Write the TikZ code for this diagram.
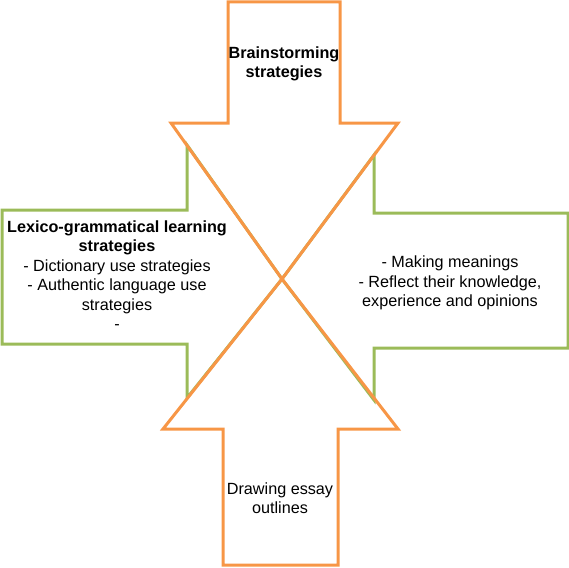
\documentclass[tikz,border=0pt]{standalone}
\usepackage{fontspec}
\setmainfont{Liberation Sans}
\definecolor{arroworange}{RGB}{247,150,70}
\definecolor{arrowgreen}{RGB}{155,187,89}

\begin{document}
\begin{tikzpicture}[x=1pt,y=-1pt,
    greenarrow/.style={draw=arrowgreen,line width=3pt,line join=miter},
    orangearrow/.style={draw=arroworange,line width=3pt,line join=miter},
    txt/.style={align=center,inner sep=0pt,font=\fontsize{16.2}{19.5}\selectfont}
  ]
    \useasboundingbox (0,0) rectangle (569,567);
    \coordinate (tip) at (282,279);

    % left and right arrows
    \draw[greenarrow] (tip) -- (187,145) -- (187,210) -- (2,210) -- (2,344)
      -- (187,344) -- (187,398) -- cycle;
    \draw[greenarrow] (tip) -- (374,155) -- (374,213) -- (568,213) -- (568,348)
      -- (374,348) -- (374,400) -- cycle;

    % top and bottom arrows
    \draw[orangearrow] (tip) -- (171,123) -- (228,123) -- (228,2) -- (340,2)
      -- (340,123) -- (398,123) -- cycle;
    \draw[orangearrow] (tip) -- (163,429) -- (223,429) -- (223,565) -- (338,565)
      -- (338,429) -- (398,429) -- cycle;

    \node[txt] (brain) at (284,64) {\textbf{Brainstorming}\\\textbf{strategies}};
    \node[txt] (lexico) at (117,275) {\textbf{Lexico-grammatical learning}\\
      \textbf{strategies}\\- Dictionary use strategies\\- Authentic language use\\
      strategies\\-};
    \node[txt] (meaning) at (450,283) {- Making meanings\\- Reflect their knowledge,\\
      experience and opinions};
    \node[txt] (outline) at (280,498) {Drawing essay\\outlines};
  \end{tikzpicture}
\end{document}
